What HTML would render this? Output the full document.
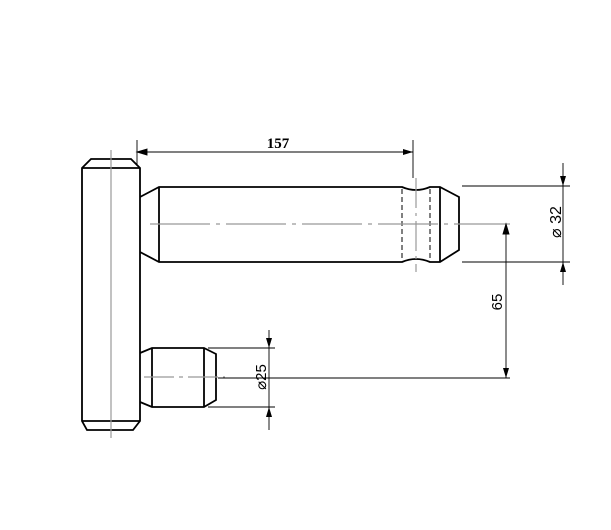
<!DOCTYPE html>
<html><head><style>body{margin:0;background:#fff}svg{display:block}</style></head><body>
<svg width="611" height="530" viewBox="0 0 611 530" xmlns="http://www.w3.org/2000/svg">
<defs>
<marker id="a" markerWidth="10" markerHeight="6" refX="10" refY="3" orient="auto" markerUnits="userSpaceOnUse"><path d="M0,0 L10,3 L0,6 z" fill="#000"/></marker>
</defs>
<g fill="none" stroke="#000" stroke-width="1.8">
<path d="M82,168 L91,159 L131,159 L140,168 L140,421 L133,430 L87,430 L82,421 Z"/>
<line x1="82" y1="168" x2="140" y2="168"/>
<line x1="82" y1="421" x2="140" y2="421"/>
<path d="M140,197 L159,187 L402,187 Q416,193 430,187 L440,187 L459,197 L459,250 L440,262 L430,262 Q416,256 402,262 L159,262 L140,252"/>
<line x1="159" y1="187" x2="159" y2="262"/>
<line x1="440" y1="187" x2="440" y2="262"/>
<path d="M140,353 L152,348 L204,348 L216,354 L216,400 L204,407 L152,407 L140,402"/>
<line x1="152" y1="348" x2="152" y2="407"/>
<line x1="204" y1="348" x2="204" y2="407"/>
</g>
<g stroke="#000" stroke-width="1" fill="none">
<line x1="402" y1="189" x2="402" y2="261" stroke-dasharray="5,3"/>
<line x1="430" y1="189" x2="430" y2="261" stroke-dasharray="5,3"/>
</g>
<g stroke="#999" stroke-width="1.2" fill="none">
<line x1="111" y1="150" x2="111" y2="438"/>
<line x1="150" y1="224" x2="510" y2="224" stroke-dasharray="60,6,4,6"/>
<line x1="416" y1="178" x2="416" y2="272" stroke-dasharray="30,5,3,5"/>
<line x1="144" y1="377" x2="225" y2="377" stroke-dasharray="30,5,4,5"/>
</g>
<g stroke="#000" stroke-width="0.9" fill="none">
<line x1="137" y1="140" x2="137" y2="166"/>
<line x1="413" y1="140" x2="413" y2="178"/>
<line x1="137" y1="152" x2="413" y2="152" marker-end="url(#a)"/>
<path d="M147,149 L137,152 L147,155 Z" fill="#000"/>
<line x1="462" y1="186" x2="570" y2="186"/>
<line x1="462" y1="262" x2="570" y2="262"/>
<line x1="563" y1="163" x2="563" y2="186" marker-end="url(#a)"/>
<line x1="563" y1="285" x2="563" y2="262" marker-end="url(#a)"/>
<line x1="563" y1="186" x2="563" y2="262"/>
<line x1="218" y1="378" x2="510" y2="378"/>
<line x1="506" y1="224" x2="506" y2="378" marker-end="url(#a)"/>
<path d="M503,234 L506,224 L509,234 Z" fill="#000"/>
<line x1="208" y1="348" x2="275" y2="348"/>
<line x1="208" y1="407" x2="275" y2="407"/>
<line x1="269" y1="330" x2="269" y2="348" marker-end="url(#a)"/>
<line x1="269" y1="430" x2="269" y2="407" marker-end="url(#a)"/>
<line x1="269" y1="348" x2="269" y2="407"/>
</g>
<text x="278" y="148" font-family="Liberation Serif, serif" font-weight="bold" font-size="15" text-anchor="middle">157</text>
<text transform="translate(561,222) rotate(-90)" font-family="Liberation Sans, sans-serif" font-size="16" text-anchor="middle" fill="#000">⌀ 32</text>
<text transform="translate(502,302) rotate(-90)" font-family="Liberation Sans, sans-serif" font-size="15" text-anchor="middle">65</text>
<text transform="translate(266,377) rotate(-90)" font-family="Liberation Sans, sans-serif" font-size="15" text-anchor="middle">⌀25</text>
</svg>
</body></html>
